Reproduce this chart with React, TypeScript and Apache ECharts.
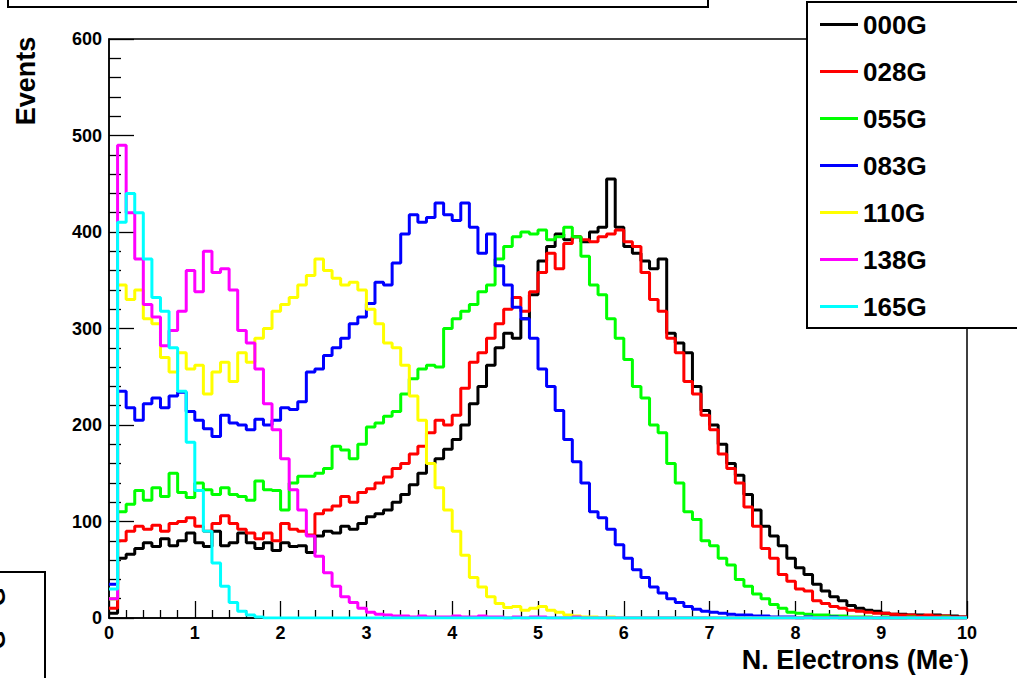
import React, { useEffect, useRef } from 'react';
import * as echarts from 'echarts';

// Histogram binning (N. Electrons, Me-)
const binStart = 0;
const binWidth = 0.1;
const xMin = 0;
const xMax = 10;
const yMin = 0;
const yMax = 600;

const seriesNames = ['000G', '028G', '055G', '083G', '110G', '138G', '165G'];
const seriesColors = ['#000000', '#ff0000', '#00ff00', '#0000ff', '#ffff00', '#ff00ff', '#00ffff'];

const h000G = [
  5, 62, 66, 72, 78, 74, 82, 75, 80, 88,
  78, 74, 90, 75, 78, 88, 78, 72, 78, 70,
  78, 74, 75, 68, 85, 90, 88, 95, 92, 98,
  105, 108, 112, 120, 128, 138, 150, 160, 165, 175,
  185, 200, 222, 240, 262, 280, 295, 290, 310, 335,
  370, 385, 398, 392, 395, 390, 400, 405, 455, 405,
  385, 378, 370, 362, 372, 295, 285, 275, 240, 215,
  200, 180, 160, 148, 128, 112, 95, 85, 75, 62,
  52, 45, 35, 28, 22, 18, 13, 10, 8, 7,
  5, 4, 4, 3, 3, 2, 3, 2, 2, 1,
];
const h028G = [
  10, 80, 90, 95, 92, 96, 90, 98, 100, 104,
  95, 90, 98, 106, 98, 92, 88, 82, 88, 80,
  98, 92, 90, 86, 108, 112, 116, 126, 120, 130,
  134, 140, 146, 155, 160, 170, 178, 192, 205, 200,
  210, 238, 265, 275, 290, 305, 320, 332, 318, 338,
  358, 378, 362, 388, 395, 392, 390, 395, 398, 402,
  390, 385, 358, 330, 318, 290, 275, 245, 232, 210,
  195, 170, 155, 140, 115, 95, 72, 62, 45, 38,
  30, 28, 18, 15, 12, 10, 8, 7, 6, 5,
  5, 4, 3, 3, 2, 3, 2, 2, 1, 1,
];
const h055G = [
  20, 110, 118, 132, 122, 135, 126, 150, 130, 125,
  140, 133, 128, 135, 128, 126, 122, 142, 133, 132,
  112, 140, 147, 147, 150, 155, 178, 174, 165, 180,
  198, 202, 209, 214, 232, 248, 258, 262, 260, 300,
  310, 318, 325, 338, 345, 372, 385, 395, 400, 398,
  402, 392, 395, 405, 395, 375, 345, 335, 310, 290,
  268, 240, 228, 200, 192, 160, 140, 110, 102, 80,
  75, 62, 55, 40, 33, 25, 20, 14, 10, 6,
  5, 4, 3, 3, 2, 2, 1, 1, 1, 0,
  1, 0, 0, 1, 0, 0, 0, 1, 0, 0,
];
const h083G = [
  35, 235, 218, 205, 222, 228, 218, 230, 234, 214,
  205, 196, 188, 210, 202, 200, 195, 206, 200, 205,
  218, 216, 224, 255, 258, 272, 280, 290, 305, 312,
  326, 348, 345, 368, 398, 418, 410, 415, 430, 418,
  412, 430, 405, 378, 398, 365, 345, 322, 310, 290,
  258, 240, 215, 185, 162, 140, 110, 104, 92, 76,
  62, 50, 42, 32, 26, 20, 16, 12, 9, 7,
  6, 5, 4, 3, 3, 2, 2, 1, 1, 1,
  0, 1, 0, 0, 1, 0, 0, 0, 0, 0,
  0, 0, 0, 0, 0, 0, 0, 0, 0, 0,
];
const h110G = [
  20, 345, 330, 340, 310, 305, 270, 255, 275, 258,
  262, 232, 255, 265, 245, 275, 265, 290, 300, 318,
  325, 332, 345, 355, 372, 360, 352, 345, 348, 340,
  320, 305, 285, 280, 262, 230, 205, 160, 135, 112,
  90, 65, 42, 32, 22, 15, 11, 12, 8, 10,
  12, 8, 6, 3, 2, 1, 1, 0, 1, 0,
  0, 0, 0, 0, 0, 0, 0, 0, 0, 0,
  0, 0, 0, 0, 0, 0, 0, 0, 0, 0,
  0, 0, 0, 0, 0, 0, 0, 0, 0, 0,
  0, 0, 0, 0, 0, 0, 0, 0, 0, 0,
];
const h138G = [
  20, 490, 420, 372, 325, 312, 282, 298, 318, 360,
  338, 380, 358, 362, 340, 298, 285, 258, 222, 195,
  165, 133, 112, 85, 64, 47, 33, 22, 16, 10,
  6, 4, 3, 2, 2, 1, 2, 1, 1, 1,
  2, 1, 1, 2, 1, 1, 0, 1, 0, 1,
  1, 0, 0, 0, 1, 0, 0, 0, 0, 0,
  0, 0, 0, 0, 0, 0, 0, 0, 0, 0,
  0, 0, 0, 0, 0, 0, 0, 0, 0, 0,
  0, 0, 0, 0, 0, 0, 0, 0, 0, 0,
  0, 0, 0, 0, 0, 0, 0, 0, 0, 0,
];
const h165G = [
  30, 410, 440, 420, 372, 332, 318, 280, 235, 182,
  132, 90, 57, 33, 16, 7, 3, 1, 0, 0,
  0, 0, 0, 0, 0, 0, 0, 0, 0, 0,
  0, 0, 0, 0, 0, 0, 0, 0, 0, 0,
  0, 0, 0, 0, 0, 0, 0, 0, 0, 0,
  0, 0, 0, 0, 0, 0, 0, 0, 0, 0,
  0, 0, 0, 0, 0, 0, 0, 0, 0, 0,
  0, 0, 0, 0, 0, 0, 0, 0, 0, 0,
  0, 0, 0, 0, 0, 0, 0, 0, 0, 0,
  0, 0, 0, 0, 0, 0, 0, 0, 0, 0,
];

const histograms = [h000G, h028G, h055G, h083G, h110G, h138G, h165G];

const xTitle = 'N. Electrons (Me';
const yTitle = 'Events';

const FONT = '"Liberation Sans", Arial, Helvetica, sans-serif';

function toSteps(values: number[]) {
  const pts: number[][] = values.map((v, i) => [binStart + i * binWidth, v]);
  pts.push([binStart + values.length * binWidth, values[values.length - 1]]);
  return pts;
}

export default function App() {
  const ref = useRef<HTMLDivElement>(null);

  useEffect(() => {
    if (!ref.current) return;
    const chart = echarts.init(ref.current, null, { renderer: 'svg' });

    const option: any = {
      animation: false,
      backgroundColor: '#ffffff',
      grid: {
        left: 109,
        right: 50,
        top: 39,
        bottom: 60,
        show: true,
        borderColor: '#000',
        borderWidth: 1.5,
        backgroundColor: 'transparent',
      },
      xAxis: {
        type: 'value',
        min: xMin,
        max: xMax,
        interval: 1,
        axisLine: { show: true, onZero: false, lineStyle: { color: '#000', width: 1.5 } },
        axisTick: { show: true, inside: true, length: 17, lineStyle: { color: '#000', width: 1.3 } },
        minorTick: { show: true, splitNumber: 5, length: 8, lineStyle: { color: '#000', width: 1.3 } },
        splitLine: { show: false },
        axisLabel: {
          color: '#000',
          fontFamily: FONT,
          fontWeight: 'bold',
          fontSize: 18,
          margin: 6,
        },
      },
      yAxis: {
        type: 'value',
        min: yMin,
        max: yMax,
        interval: 100,
        axisLine: { show: true, lineStyle: { color: '#000', width: 1.5 } },
        axisTick: { show: true, inside: true, length: 25, lineStyle: { color: '#000', width: 1.3 } },
        minorTick: { show: true, splitNumber: 5, length: 12, lineStyle: { color: '#000', width: 1.3 } },
        splitLine: { show: false },
        axisLabel: {
          color: '#000',
          fontFamily: FONT,
          fontWeight: 'bold',
          fontSize: 18,
          margin: 7,
        },
      },
      legend: {
        show: true,
        orient: 'vertical',
        left: 815,
        top: 6,
        z: 20,
        itemWidth: 38,
        itemHeight: 3,
        itemGap: 20,
        icon: 'rect',
        selectedMode: false,
        data: seriesNames,
        textStyle: {
          color: '#000',
          fontFamily: FONT,
          fontWeight: 'bold',
          fontSize: 26,
          lineHeight: 27,
        },
      },
      series: seriesNames.map((name, i) => ({
        name,
        type: 'line',
        step: 'end',
        showSymbol: false,
        symbol: 'none',
        clip: true,
        data: toSteps(histograms[i]),
        lineStyle: { color: seriesColors[i], width: 3 },
        itemStyle: { color: seriesColors[i] },
        emphasis: { disabled: true },
      })),
      graphic: [
        {
          type: 'rect',
          z: 10,
          shape: { x: 807, y: 2, width: 300, height: 326 },
          style: { fill: '#fff', stroke: '#000', lineWidth: 2 },
        },
        {
          type: 'rect',
          z: 10,
          shape: { x: 8, y: -60, width: 700, height: 67 },
          style: { fill: '#fff', stroke: '#000', lineWidth: 2 },
        },
        {
          type: 'rect',
          z: 10,
          shape: { x: -20, y: 572, width: 65, height: 200 },
          style: { fill: '#fff', stroke: '#000', lineWidth: 2 },
        },
        {
          type: 'text',
          z: 11,
          x: -4,
          y: 597,
          rotation: Math.PI / 2,
          style: {
            text: 'G',
            fill: '#000',
            font: `bold 24px ${FONT}`,
            textAlign: 'center',
            textVerticalAlign: 'middle',
          },
        },
        {
          type: 'text',
          z: 11,
          x: -4,
          y: 640,
          rotation: Math.PI / 2,
          style: {
            text: 'G',
            fill: '#000',
            font: `bold 24px ${FONT}`,
            textAlign: 'center',
            textVerticalAlign: 'middle',
          },
        },
        {
          type: 'text',
          z: 11,
          x: 26,
          y: 81,
          rotation: Math.PI / 2,
          style: {
            text: yTitle,
            fill: '#000',
            font: `bold 27px ${FONT}`,
            textAlign: 'center',
            textVerticalAlign: 'middle',
          },
        },
        {
          type: 'text',
          z: 11,
          x: 969,
          y: 660,
          style: {
            text: `{a|${xTitle}}{s|-}{a|)}`,
            textAlign: 'right',
            textVerticalAlign: 'middle',
            rich: {
              a: { fontFamily: FONT, fontWeight: 'bold', fontSize: 27, fill: '#000', color: '#000' },
              s: {
                fontFamily: FONT,
                fontWeight: 'bold',
                fontSize: 14,
                color: '#000',
                fill: '#000',
                verticalAlign: 'top',
                padding: [0, 1, 12, 1],
              },
            },
          },
        },
      ],
    };

    chart.setOption(option);
    return () => {
      chart.dispose();
    };
  }, []);

  return (
    <div
      ref={ref}
      style={{ position: 'fixed', left: 0, top: 0, width: 1017, height: 678, background: '#fff' }}
    />
  );
}
